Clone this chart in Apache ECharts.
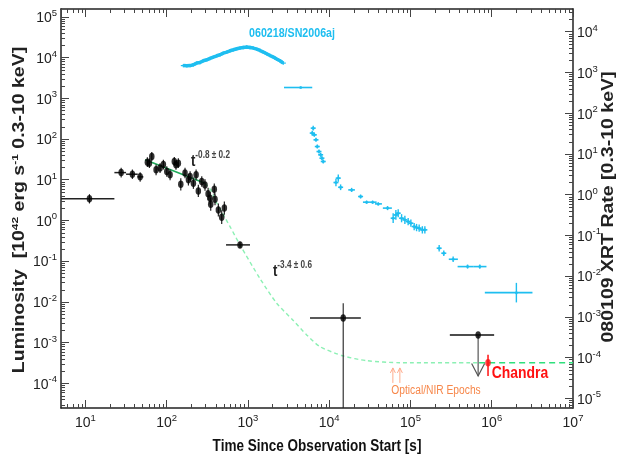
<!DOCTYPE html>
<html>
<head>
<meta charset="utf-8">
<script src="https://cdn.jsdelivr.net/npm/echarts@6/dist/echarts.min.js"></script>
<style>
  html, body { margin: 0; padding: 0; background: #fff; }
  #chart { width: 617px; height: 459px; }
</style>
</head>
<body>
<div id="chart"></div>
<script>
const SANS = "'Liberation Sans',Arial,sans-serif";
const SQUEEZE = 0.82; // the source figure's text is horizontally condensed

// axis ranges (log)
const timeMin = 5, timeMax = 1e7;
const lumMin = 2.47e-5, lumMax = 1.55e5;
const rateMin = 5.78e-6, rateMax = 3.61e4;

// 080109 black points with x error bars
const bkT   = [11.2, 27.5, 37.8, 47.1, 798, 14860];
const bkL   = [3.4, 14.9, 13.6, 11.7, 0.25, 0.0040];
const bkTlo = [5, 22.7, 31.6, 43.6, 537, 5800];
const bkThi = [22.7, 31.6, 44, 51.6, 1059, 24500];
const bkLlo = [2.6, 11.3, 10.4, 8.9, 0.21, 1e-7];
const bkLhi = [4.4, 19.5, 17.8, 15.3, 0.30, 0.0092];

// 080109 early cluster
const clT   = [57.8, 61.2, 65.5, 74.0, 82.8, 91.0, 100.2, 110, 124, 130, 139, 149, 168, 185, 194, 213, 230, 245, 270, 296, 323, 341, 348, 385, 393, 432, 475, 512];
const clL   = [26.9, 25.4, 37.0, 17.4, 19.2, 23.4, 15.8, 13.1, 27.9, 23.1, 25.4, 7.7, 14.5, 9.9, 11.9, 8.2, 13.1, 5.3, 9.0, 7.4, 4.5, 3.5, 2.5, 5.8, 3.3, 1.8, 1.2, 2.0];
const clDex = [0.12, 0.12, 0.11, 0.13, 0.12, 0.12, 0.13, 0.13, 0.11, 0.12, 0.12, 0.15, 0.13, 0.14, 0.13, 0.14, 0.13, 0.15, 0.13, 0.14, 0.15, 0.15, 0.16, 0.14, 0.15, 0.16, 0.17, 0.16];

// upper limit and Chandra
const limT = [6.8e5], limL = [0.00154], limTlo = [3.05e5], limThi = [1.07e6], limTip = [1.51e-4];
const chT = [9.0e5], chL = [3.2e-4], chLo = [1.51e-4], chHi = [5.0e-4];

// 060218 dense light curve
const bcT = [160, 177, 194, 213, 234, 257, 282, 311, 341, 375, 413, 453, 498, 548, 601, 661, 728, 798, 877, 966, 1059, 1164, 1281, 1406, 1545, 1700, 1866, 2051, 2254, 2477, 2723];
const bcL = [6310, 6250, 6310, 6610, 7280, 7540, 8300, 8780, 9450, 10230, 11010, 11650, 12820, 13580, 14620, 15460, 16370, 17020, 17620, 18030, 17620, 17020, 16070, 14860, 13580, 12330, 11190, 10230, 9140, 8300, 7280];

// 060218 later points
const blT   = [4450, 6180, 6350, 6550, 6870, 7130, 7480, 7840, 8130, 8440, 12100, 12920, 13810, 18870, 24320, 28840, 34200, 40100, 52200, 61200, 66100, 70600, 77700, 85300, 93600, 101100, 111000, 118800, 127900, 140000, 150300, 225400, 257000, 335000, 504000, 713000, 2.01e6];
const blL   = [1830, 139, 184, 126, 95, 65, 49, 40.7, 33.7, 27.9, 8.5, 10.9, 6.5, 5.6, 3.85, 2.8, 2.8, 2.54, 2.0, 1.13, 1.36, 1.50, 1.13, 1.03, 0.933, 0.853, 0.705, 0.666, 0.643, 0.585, 0.585, 0.207, 0.156, 0.111, 0.0733, 0.0733, 0.0168];
const blTlo = [2775, 6180, 6350, 6550, 6870, 7130, 7480, 7840, 8130, 8440, 12100, 12920, 13810, 17150, 24320, 26000, 31700, 36500, 45700, 61200, 66100, 70600, 77700, 85300, 93600, 101100, 111000, 118800, 127900, 140000, 150300, 225400, 257000, 296000, 380000, 601000, 822000];
const blThi = [6180, 6180, 6350, 6550, 6870, 7130, 7480, 7840, 8130, 8440, 12100, 12920, 13810, 20700, 24320, 31700, 38300, 44500, 59000, 61200, 66100, 70600, 77700, 85300, 93600, 101100, 111000, 118800, 127900, 140000, 150300, 225400, 257000, 383000, 601000, 861000, 3.17e6];
const blDex = [0.02, 0.06, 0.06, 0.05, 0.05, 0.05, 0.05, 0.05, 0.05, 0.05, 0.09, 0.09, 0.07, 0.05, 0.05, 0.04, 0.04, 0.04, 0.05, 0.12, 0.12, 0.10, 0.10, 0.10, 0.09, 0.09, 0.09, 0.09, 0.09, 0.09, 0.09, 0.08, 0.07, 0.07, 0.05, 0.05, 0.24];

// model fit
const fitT  = [54.2, 296];
const fitL  = [30.7, 8.2];
const dashT = [296, 358, 393, 475, 601, 798, 1406, 2254, 3606, 5272, 7690, 14860, 28840, 74000, 7.0e5];
const dashL = [8.2, 5.1, 3.19, 1.64, 0.705, 0.25, 0.0372, 0.00925, 0.00349, 0.00154, 7.94e-4, 4.69e-4, 3.59e-4, 3.2e-4, 3.2e-4];
const tailT = [7.0e5, 1e7];
const tailL = [3.2e-4, 3.2e-4];

// optical / NIR epochs
const epT = [60700, 74000], epLo = 1.02e-4, epHi = 2.38e-4;

const BLUE = '#1ebef0';

function zip(...cols) { return cols[0].map((_, i) => cols.map(c => c[i])); }

function minorList(lo, hi) {
  const out = [];
  for (let k = -7; k <= 7; k++) {
    for (let m = 2; m <= 9; m++) {
      const v = m * Math.pow(10, k);
      if (v > lo && v < hi) out.push(v);
    }
  }
  return out;
}
const xMinor = minorList(timeMin, timeMax);
const lumMinor = minorList(lumMin, lumMax);
const rateMinor = minorList(rateMin, rateMax);

function errBars(color, hw, vw, capMin) {
  return function (params, api) {
    const cs = params.coordSys;
    const cy = v => Math.max(cs.y, Math.min(cs.y + cs.height, v));
    const cx = v => Math.max(cs.x, Math.min(cs.x + cs.width, v));
    const c = api.coord([api.value(0), api.value(1)]);
    let a = api.coord([api.value(2), api.value(1)])[0];
    let b = api.coord([api.value(3), api.value(1)])[0];
    if (b - a < 2 * capMin) { a = c[0] - capMin; b = c[0] + capMin; }
    const lo = api.coord([api.value(0), api.value(4)])[1];
    const hi = api.coord([api.value(0), api.value(5)])[1];
    return {
      type: 'group',
      children: [
        { type: 'line', shape: { x1: cx(a), y1: c[1], x2: cx(b), y2: c[1] }, style: { stroke: color, lineWidth: hw } },
        { type: 'line', shape: { x1: c[0], y1: cy(lo), x2: c[0], y2: cy(hi) }, style: { stroke: color, lineWidth: vw } }
      ]
    };
  };
}

// plain text drawn condensed like the source
function narrowText(x, y, text, font, fill, align) {
  return {
    type: 'text', x: x, y: y, scaleX: SQUEEZE,
    style: { text: text, font: font, fill: fill, align: align || 'center', verticalAlign: 'middle',
      textAlign: align || 'center', textVerticalAlign: 'middle' }
  };
}

function powerText(x, y, sup) {
  return {
    type: 'text', x: x, y: y, scaleX: SQUEEZE,
    style: {
      text: '{t|t}{s|' + sup + '}', align: 'left', verticalAlign: 'middle', textAlign: 'left', textVerticalAlign: 'middle',
      rich: {
        t: { fontFamily: SANS, fontWeight: 'bold', fontSize: 16, fill: '#222', verticalAlign: 'bottom', lineHeight: 19 },
        s: { fontFamily: SANS, fontWeight: 'bold', fontSize: 10, fill: '#444', verticalAlign: 'top', lineHeight: 19 }
      }
    }
  };
}

const chart = echarts.init(document.getElementById('chart'), null, { renderer: 'canvas' });

const tickLabel = {
  formatter: v => '{b|10}{s|' + Math.round(Math.log10(v)) + '}',
  showMinLabel: false,
  rich: {
    b: { fontSize: 14, fontFamily: SANS, color: '#222', verticalAlign: 'bottom', lineHeight: 17 },
    s: { fontSize: 9.5, fontFamily: SANS, color: '#222', verticalAlign: 'top', lineHeight: 17 }
  }
};

const option = {
  animation: false,
  backgroundColor: '#fff',
  grid: { left: 61, right: 44, top: 9, bottom: 51, containLabel: false },
  xAxis: [
    {
      type: 'log', logBase: 10, min: timeMin, max: timeMax, splitNumber: 10,
      axisLine: { lineStyle: { color: '#222', width: 1.5 } },
      axisTick: { inside: true, length: 8, lineStyle: { color: '#444' } },
      splitLine: { show: false },
      axisLabel: Object.assign({ margin: 5, showMaxLabel: true }, tickLabel)
    },
    {
      type: 'log', logBase: 10, min: timeMin, max: timeMax, splitNumber: 10, position: 'top',
      axisLine: { lineStyle: { color: '#222', width: 1.5 } },
      axisTick: { inside: true, length: 8, lineStyle: { color: '#444' } },
      axisLabel: { show: false }, splitLine: { show: false }
    }
  ],
  yAxis: [
    {
      type: 'log', logBase: 10, min: lumMin, max: lumMax, splitNumber: 10,
      axisLine: { lineStyle: { color: '#222', width: 1.5 } },
      axisTick: { inside: true, length: 8, lineStyle: { color: '#444' } },
      splitLine: { show: false },
      axisLabel: Object.assign({ margin: 4, showMaxLabel: false }, tickLabel)
    },
    {
      type: 'log', logBase: 10, min: rateMin, max: rateMax, splitNumber: 10, position: 'right',
      axisLine: { lineStyle: { color: '#222', width: 1.5 } },
      axisTick: { inside: true, length: 8, lineStyle: { color: '#444' } },
      splitLine: { show: false },
      axisLabel: Object.assign({ margin: 4, showMaxLabel: false }, tickLabel)
    }
  ],
  graphic: [
    {
      type: 'text', x: 19, y: 210, rotation: Math.PI / 2, scaleY: 0.8,
      style: {
        text: '{a|Luminosity  [10}{s|42}{a| erg s}{s|-1}{a| 0.3-10 keV]}',
        align: 'center', verticalAlign: 'middle', textAlign: 'center', textVerticalAlign: 'middle',
        rich: {
          a: { fontFamily: SANS, fontWeight: 'bold', fontSize: 19.5, fill: '#222', verticalAlign: 'bottom', lineHeight: 22 },
          s: { fontFamily: SANS, fontWeight: 'bold', fontSize: 12, fill: '#222', verticalAlign: 'top', lineHeight: 22 }
        }
      }
    },
    {
      type: 'text', x: 609, y: 207, rotation: Math.PI / 2, scaleY: 0.8,
      style: {
        text: '080109 XRT Rate [0.3-10 keV]',
        align: 'center', verticalAlign: 'middle', textAlign: 'center', textVerticalAlign: 'middle',
        font: 'bold 19.5px ' + SANS, fill: '#222'
      }
    },
    narrowText(317, 446, 'Time Since Observation Start [s]', 'bold 16.5px ' + SANS, '#111'),
    narrowText(292, 33, '060218/SN2006aj', 'bold 13px ' + SANS, BLUE),
    narrowText(520, 373, 'Chandra', 'bold 17px ' + SANS, '#ff1010'),
    narrowText(436, 391, 'Optical/NIR Epochs', '12.5px ' + SANS, '#f7874a'),
    powerText(191, 160, '-0.8 ± 0.2'),
    powerText(273, 270, '-3.4 ± 0.6')
  ],
  series: [
    {
      type: 'custom', name: 'minor', xAxisIndex: 0, yAxisIndex: 0, data: [[10, 1]], silent: true, z: 1,
      renderItem: function (params, api) {
        const cs = params.coordSys;
        const kids = [];
        const st = { stroke: '#444', lineWidth: 1 };
        xMinor.forEach(v => {
          const x = Math.round(api.coord([v, 1])[0]) + 0.5;
          kids.push({ type: 'line', shape: { x1: x, y1: cs.y + cs.height, x2: x, y2: cs.y + cs.height - 4 }, style: st });
          kids.push({ type: 'line', shape: { x1: x, y1: cs.y, x2: x, y2: cs.y + 4 }, style: st });
        });
        lumMinor.forEach(v => {
          const y = Math.round(api.coord([10, v])[1]) + 0.5;
          kids.push({ type: 'line', shape: { x1: cs.x, y1: y, x2: cs.x + 4, y2: y }, style: st });
        });
        return { type: 'group', children: kids };
      }
    },
    {
      type: 'custom', name: 'minorR', xAxisIndex: 0, yAxisIndex: 1, data: [[10, 1]], silent: true, z: 1,
      renderItem: function (params, api) {
        const cs = params.coordSys;
        const kids = [];
        rateMinor.forEach(v => {
          const y = Math.round(api.coord([10, v])[1]) + 0.5;
          kids.push({ type: 'line', shape: { x1: cs.x + cs.width, y1: y, x2: cs.x + cs.width - 4, y2: y }, style: { stroke: '#444', lineWidth: 1 } });
        });
        return { type: 'group', children: kids };
      }
    },
    {
      type: 'line', name: 'fit', data: zip(fitT, fitL), showSymbol: false, symbol: 'none', z: 3,
      lineStyle: { color: '#1faa5a', width: 1.6 }
    },
    {
      type: 'line', name: 'model', data: zip(dashT, dashL), showSymbol: false, symbol: 'none', smooth: 0.25, z: 3,
      lineStyle: { color: '#8cf0b4', width: 1.4, type: [4, 3] }
    },
    {
      type: 'line', name: 'tail', data: zip(tailT, tailL), showSymbol: false, symbol: 'none', z: 3,
      lineStyle: { color: '#2ee07c', width: 1.6, type: [6, 4] }
    },
    {
      type: 'line', name: '060218', data: zip(bcT, bcL), showSymbol: false, symbol: 'none', z: 4,
      lineStyle: { color: BLUE, width: 3.5 }
    },
    {
      type: 'custom', name: '060218 pts', z: 4,
      data: zip(bcT, bcL, bcT, bcT, bcL.map(v => v / 1.1), bcL.map(v => v * 1.1)),
      renderItem: errBars(BLUE, 1.2, 1.2, 2.5)
    },
    {
      type: 'custom', name: '060218 late', z: 4,
      data: zip(blT, blL, blTlo, blThi, blL.map((v, i) => v / Math.pow(10, blDex[i])), blL.map((v, i) => v * Math.pow(10, blDex[i]))),
      renderItem: errBars(BLUE, 1.6, 1.4, 2.5)
    },
    {
      type: 'scatter', name: '060218 late dots', data: zip(blT, blL), symbol: 'circle', symbolSize: 3, z: 5,
      itemStyle: { color: BLUE }
    },
    {
      type: 'custom', name: '080109 bars', z: 5,
      data: zip(bkT, bkL, bkTlo, bkThi, bkLlo, bkLhi),
      renderItem: errBars('#222', 1.5, 1.1, 0)
    },
    {
      type: 'custom', name: '080109 cluster bars', z: 5,
      data: zip(clT, clL, clT, clT, clL.map((v, i) => v / Math.pow(10, clDex[i])), clL.map((v, i) => v * Math.pow(10, clDex[i]))),
      renderItem: errBars('#222', 1, 1.2, 0)
    },
    {
      type: 'scatter', name: '080109', data: zip(bkT.concat(clT, limT), bkL.concat(clL, limL)),
      symbol: 'circle', symbolSize: [5.5, 7.5], z: 6, itemStyle: { color: '#000' }
    },
    {
      type: 'custom', name: 'upper limit', z: 5,
      data: zip(limT, limL, limTlo, limThi, limTip),
      renderItem: function (params, api) {
        const c = api.coord([api.value(0), api.value(1)]);
        const a = api.coord([api.value(2), api.value(1)])[0];
        const b = api.coord([api.value(3), api.value(1)])[0];
        const tip = api.coord([api.value(0), api.value(4)]);
        return {
          type: 'group', children: [
            { type: 'line', shape: { x1: a, y1: c[1], x2: b, y2: c[1] }, style: { stroke: '#111', lineWidth: 1.5 } },
            { type: 'line', shape: { x1: c[0], y1: c[1], x2: tip[0], y2: tip[1] }, style: { stroke: '#555', lineWidth: 1.2 } },
            { type: 'polyline', shape: { points: [[tip[0] - 6.5, tip[1] - 12.5], [tip[0], tip[1]], [tip[0] + 6.5, tip[1] - 12.5]] }, style: { stroke: '#555', lineWidth: 1.2, fill: null } }
          ]
        };
      }
    },
    {
      type: 'custom', name: 'Chandra bar', z: 5,
      data: zip(chT, chL, chT, chT, chLo, chHi),
      renderItem: errBars('#ff1010', 1.5, 1.5, 0)
    },
    {
      type: 'scatter', name: 'Chandra', data: zip(chT, chL), symbol: 'circle', symbolSize: [5.5, 7.5], z: 6,
      itemStyle: { color: '#ff1010' }
    },
    {
      type: 'custom', name: 'epochs', z: 5,
      data: epT.map(t => [t, epLo, epHi]),
      renderItem: function (params, api) {
        const lo = api.coord([api.value(0), api.value(1)]);
        const hi = api.coord([api.value(0), api.value(2)]);
        const st = { stroke: '#ffab8c', lineWidth: 1, fill: null };
        return {
          type: 'group', children: [
            { type: 'line', shape: { x1: lo[0], y1: lo[1], x2: hi[0], y2: hi[1] }, style: st },
            { type: 'polyline', shape: { points: [[hi[0] - 2.5, hi[1] + 5], [hi[0], hi[1]], [hi[0] + 2.5, hi[1] + 5]] }, style: st }
          ]
        };
      }
    }
  ]
};

chart.setOption(option);
</script>
</body>
</html>
